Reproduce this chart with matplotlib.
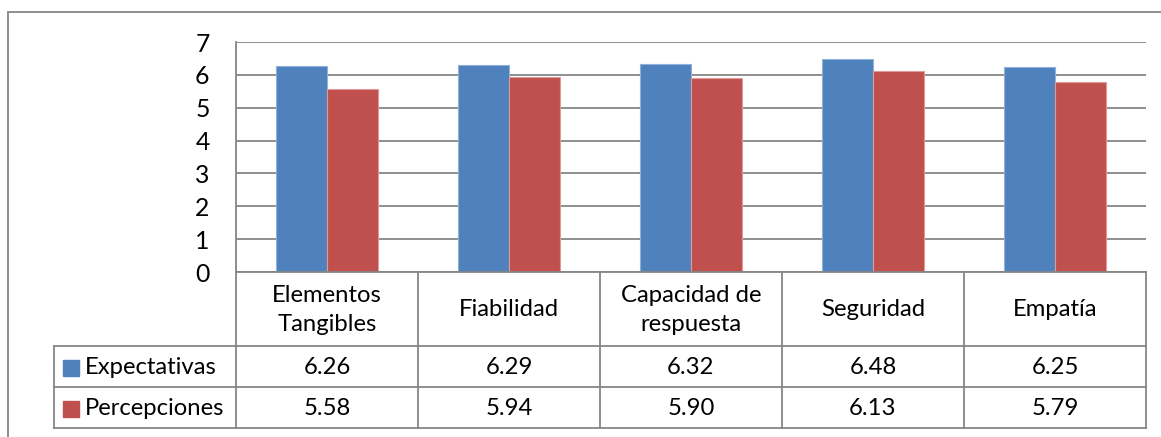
import matplotlib
matplotlib.use("Agg")
import matplotlib.pyplot as plt
from matplotlib.patches import Rectangle

categories = ["Elementos\nTangibles", "Fiabilidad", "Capacidad de\nrespuesta", "Seguridad", "Empatía"]
series_names = ["Expectativas", "Percepciones"]
expectativas = [6.26, 6.29, 6.32, 6.48, 6.25]
percepciones = [5.58, 5.94, 5.90, 6.13, 5.79]
y_ticks = [0, 1, 2, 3, 4, 5, 6, 7]

colors = ["#4F81BD", "#C0504D"]
edges = ["#8FB0DA", "#E09A98"]
grid_c = "#868686"
plt.rcParams["font.family"] = ["Lato", "DejaVu Sans"]
fs = 17.2

W, H = 1161, 437
fig = plt.figure(figsize=(W / 100, H / 100), dpi=100)

# outer chart frame (runs past the right/bottom edge of the picture)
fig.add_artist(Rectangle((8 / W, -0.05), 1.2, (H - 12) / H + 0.05, transform=fig.transFigure,
                         fill=False, edgecolor=grid_c, linewidth=1.3))

# plot area
px_l, px_r, px_t, px_b = 236, 1146, 42, 272
ax = fig.add_axes([px_l / W, (H - px_b) / H, (px_r - px_l) / W, (px_b - px_t) / H])
n = len(categories)
xs = list(range(n))
bw = 0.28
ax.bar([x - bw / 2 for x in xs], expectativas, bw, color=colors[0], edgecolor=edges[0], linewidth=0.8, zorder=3)
ax.bar([x + bw / 2 for x in xs], percepciones, bw, color=colors[1], edgecolor=edges[1], linewidth=0.8, zorder=3)
ax.set_xlim(-0.5, n - 0.5)
ax.set_ylim(0, 7)
ax.set_yticks(y_ticks)
ax.set_xticks([])
ax.yaxis.grid(True, color=grid_c, linewidth=1.3, zorder=0)
ax.tick_params(axis="y", length=0, pad=19, labelsize=fs + 0.6)
for s in ["top", "right", "bottom"]:
    ax.spines[s].set_visible(False)
ax.spines["left"].set_color(grid_c)
ax.spines["left"].set_linewidth(1.3)

# data table below the plot, x in category units, y in pixels
tb_l, tb_b = 54, 428
tax = fig.add_axes([tb_l / W, (H - tb_b) / H, (px_r - tb_l) / W, (tb_b - px_b) / H])
tax.set_xlim(-1.5, n - 0.5)
tax.set_ylim(tb_b, px_b)
tax.axis("off")
row_y = [px_b, 346, 387, tb_b]
lk = dict(color=grid_c, linewidth=1.3, clip_on=False)
# horizontal lines
tax.plot([-0.5, n - 0.5], [row_y[0]] * 2, **lk)
for y in row_y[1:]:
    tax.plot([-1.5, n - 0.5], [y] * 2, **lk)
# vertical lines
for i in range(n + 1):
    tax.plot([i - 0.5] * 2, [row_y[0], row_y[3]], **lk)
tax.plot([-1.5] * 2, [row_y[1], row_y[3]], **lk)

for i, c in enumerate(categories):
    tax.text(i, (row_y[0] + row_y[1]) / 2 + 1, c, ha="center", va="center", fontsize=fs, linespacing=1.5)
for r, vals in enumerate([expectativas, percepciones]):
    yc = (row_y[r + 1] + row_y[r + 2]) / 2 + 1
    for i, v in enumerate(vals):
        tax.text(i, yc, f"{v:.2f}", ha="center", va="center", fontsize=fs)
    # legend key and series name
    key_w = 16 / 182
    tax.add_patch(Rectangle((-1.5 + 9 / 182, yc - 8), key_w, 16, color=colors[r], clip_on=False))
    tax.text(-1.5 + 31 / 182, yc, series_names[r], ha="left", va="center", fontsize=fs)

fig.savefig("out.png", dpi=100)
